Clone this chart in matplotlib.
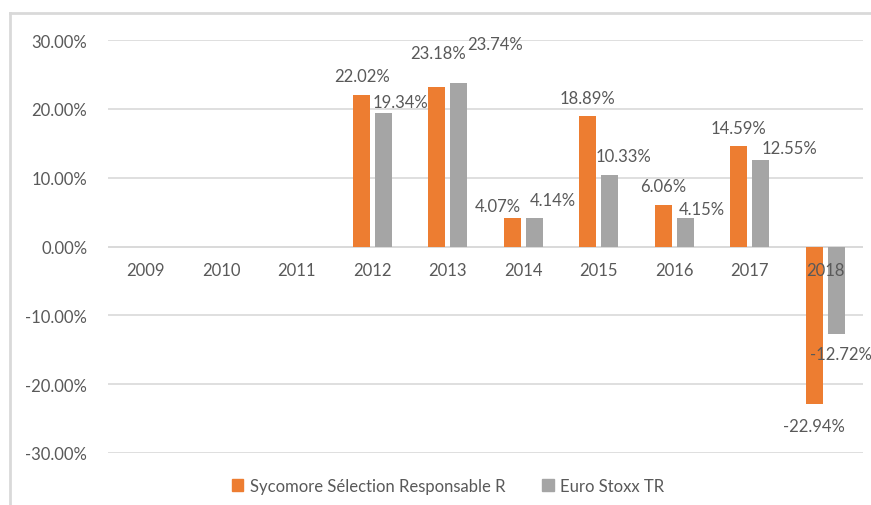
import numpy as np
from matplotlib import pyplot as plt
from matplotlib.lines import Line2D

years = ['2009', '2010', '2011', '2012', '2013', '2014', '2015', '2016', '2017', '2018']
fund = [np.nan, np.nan, np.nan, 22.02, 23.18, 4.07, 18.89, 6.06, 14.59, -22.94]
index = [np.nan, np.nan, np.nan, 19.34, 23.74, 4.14, 10.33, 4.15, 12.55, -12.72]
series_names = ['Sycomore Sélection Responsable R', 'Euro Stoxx TR']
y_ticks = [-30, -20, -10, 0, 10, 20, 30]

# hand-placed label offsets (pixels) as in the original Excel chart
fund_label_offsets = [None, None, None, (1, 19), (1, 34), (-14, 12), (0, 18), (0, 19), (0, 18), (0, -22)]
index_label_offsets = [None, None, None, (17, 11), (36, 39), (19, 18), (14, 19), (17, 9), (29, 12), (5, -20)]

ORANGE = '#ED7D31'
GREY = '#A5A5A5'
TEXT = '#595959'
GRID = '#D9D9D9'
FS = 12

plt.rcParams['font.family'] = ['Lato', 'DejaVu Sans']

W, H = 871, 506
fig = plt.figure(figsize=(W / 100, H / 100), dpi=100)
ax = fig.add_axes([108 / W, 1 - 454 / H, 755 / W, 413 / H])

x = np.arange(len(years))
bw = 0.225
off = 0.146
ax.bar(x - off, fund, bw, color=ORANGE, zorder=3)
ax.bar(x + off, index, bw, color=GREY, zorder=3)

ax.set_xlim(-0.5, len(years) - 0.5)
ax.set_ylim(-30, 30)
ax.set_yticks(y_ticks)
ax.set_yticklabels(['{:.2f}%'.format(t) for t in y_ticks])
ax.yaxis.grid(True, color=GRID, linewidth=1.2, zorder=0)
ax.tick_params(axis='y', length=0, pad=15, labelsize=FS, labelcolor=TEXT)

# category labels sit under the zero line and are drawn over the bars
ax.set_xticks([])
for s in ['top', 'left', 'right', 'bottom']:
    ax.spines[s].set_visible(False)
ax.axhline(0, color=GRID, linewidth=1.2, zorder=2)
for i, year in enumerate(years):
    ax.annotate(year, (x[i], 0), xytext=(0, -23), textcoords='offset pixels',
        ha='center', va='center', fontsize=FS, color=TEXT, zorder=5)

for vals, offs, shift in [(fund, fund_label_offsets, -off), (index, index_label_offsets, off)]:
    for i, v in enumerate(vals):
        if np.isnan(v):
            continue
        dx, dy = offs[i]
        ax.annotate('{:.2f}%'.format(v), (x[i] + shift, v), xytext=(dx, dy),
            textcoords='offset pixels', ha='center', va='center',
            fontsize=FS, color=TEXT, zorder=4)

# chart frame (top and left edges visible in the crop)
fig.add_artist(Line2D([10 / W, 1], [1 - 14 / H, 1 - 14 / H], color=GRID, linewidth=2))
fig.add_artist(Line2D([10 / W, 10 / W], [0, 1 - 14 / H], color=GRID, linewidth=2))

handles = [plt.Rectangle((0, 0), 1, 1, color=ORANGE), plt.Rectangle((0, 0), 1, 1, color=GREY)]
fig.legend(handles, series_names, loc='center', bbox_to_anchor=(448 / W, 1 - 487 / H),
    ncol=2, frameon=False, fontsize=FS, labelcolor=TEXT, handlelength=0.7,
    handleheight=0.7, handletextpad=0.4, columnspacing=2.2)

fig.savefig('out.png', dpi=100)
